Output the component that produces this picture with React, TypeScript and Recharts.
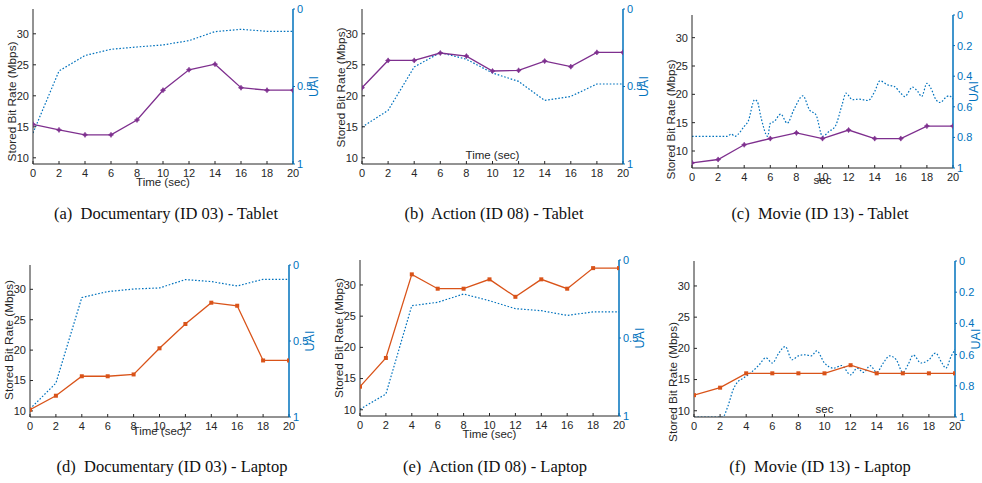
import { LineChart, Line, XAxis, YAxis, Label } from "recharts";

// x positions (sec)
const timeTicks = [0, 2, 4, 6, 8, 10, 12, 14, 16, 18, 20];
const steps = [0, 2, 4, 6, 8, 10, 12, 14, 16, 18, 20];

// (a) Documentary - Tablet
const docTabletRate = [15.4, 14.5, 13.7, 13.7, 16.1, 20.9, 24.2, 25.1, 21.3, 20.9, 20.9];
const docTabletUai = [0.8, 0.4, 0.3, 0.26, 0.245, 0.232, 0.204, 0.146, 0.131, 0.144, 0.144];

// (b) Action - Tablet
const actTabletRate = [21.3, 25.7, 25.7, 26.9, 26.4, 24.0, 24.1, 25.6, 24.7, 27.0, 27.0];
const actTabletUai = [0.762, 0.654, 0.374, 0.281, 0.324, 0.413, 0.467, 0.59, 0.564, 0.484, 0.484];

// (c) Movie - Tablet
const movTabletRate = [7.9, 8.5, 11.1, 12.2, 13.2, 12.2, 13.7, 12.2, 12.2, 14.4, 14.4];
const movTabletUaiT = [0, 2.7, 3.0, 3.3, 3.5, 4.0, 4.3, 4.8, 5.0, 5.3, 5.8, 6.0, 6.3, 6.8, 7.3, 7.8, 8.5, 9.0, 9.5, 10.0, 10.5, 11.0, 11.5, 11.8, 12.3, 12.8, 13.5, 14.0, 14.4, 15.0, 15.5, 16.0, 16.3, 16.9, 17.3, 17.6, 18.0, 18.3, 18.7, 19.0, 19.5, 19.7, 20];
const movTabletUai = [0.793, 0.793, 0.778, 0.793, 0.782, 0.728, 0.696, 0.554, 0.565, 0.674, 0.793, 0.707, 0.696, 0.648, 0.707, 0.62, 0.528, 0.62, 0.652, 0.793, 0.761, 0.724, 0.587, 0.511, 0.554, 0.55, 0.559, 0.5, 0.43, 0.457, 0.467, 0.511, 0.533, 0.472, 0.5, 0.533, 0.446, 0.478, 0.554, 0.572, 0.535, 0.528, 0.55];

// (d) Documentary - Laptop
const docLaptopRate = [10.2, 12.5, 15.7, 15.7, 16.0, 20.3, 24.3, 27.8, 27.3, 18.3, 18.3];
const docLaptopUai = [0.947, 0.777, 0.214, 0.175, 0.158, 0.151, 0.096, 0.109, 0.138, 0.094, 0.094];

// (e) Action - Laptop
const actLaptopRate = [13.7, 18.3, 31.7, 29.4, 29.4, 30.9, 28.1, 30.9, 29.4, 32.7, 32.7];
const actLaptopUai = [0.957, 0.859, 0.293, 0.271, 0.218, 0.261, 0.312, 0.325, 0.355, 0.333, 0.333];

// (f) Movie - Laptop
const movLaptopRate = [12.5, 13.7, 16.0, 16.0, 16.0, 16.0, 17.3, 16.0, 16.0, 16.0, 16.0];
const movLaptopUaiT = [0, 2.2, 2.6, 3.0, 3.3, 3.8, 4.3, 5.0, 5.5, 6.0, 6.5, 7.0, 7.5, 8.0, 8.5, 9.0, 9.4, 10.0, 10.7, 11.3, 12.0, 12.5, 13.0, 13.5, 14.0, 14.5, 15.0, 15.5, 16.0, 16.4, 16.8, 17.4, 18.0, 18.5, 19.0, 19.3, 19.7, 20];
const movLaptopUai = [1.0, 1.0, 0.93, 0.825, 0.78, 0.75, 0.72, 0.665, 0.62, 0.654, 0.59, 0.548, 0.633, 0.608, 0.601, 0.608, 0.576, 0.654, 0.687, 0.67, 0.73, 0.687, 0.714, 0.671, 0.714, 0.654, 0.608, 0.633, 0.714, 0.665, 0.603, 0.654, 0.633, 0.59, 0.654, 0.687, 0.612, 0.567];

const zip = (ts: number[], vs: number[]) => ts.map((t, i) => ({ t, v: vs[i] }));

const PURPLE = "#7E2F8E";
const ORANGE = "#D95319";
const BLUE = "#0072BD";
const AXIS = "#262626";
const SANS = "'Liberation Sans', Arial, sans-serif";

const uaiFmt = (v: number) => (v === 0 ? "0" : v === 1 ? "1" : String(v));

const StarDot = (p: any) => {
  const { cx, cy, stroke } = p;
  if (cx == null || cy == null) return <g key={p.index} />;
  const r = 2.6;
  return (
    <path
      key={p.index}
      d={`M${cx} ${cy - r}L${cx + 1} ${cy - 1}L${cx + r} ${cy}L${cx + 1} ${cy + 1}L${cx} ${cy + r}L${cx - 1} ${cy + 1}L${cx - r} ${cy}L${cx - 1} ${cy - 1}Z`}
      fill={stroke}
      stroke={stroke}
      strokeWidth={0.6}
    />
  );
};

const SquareDot = (p: any) => {
  const { cx, cy, stroke } = p;
  if (cx == null || cy == null) return <g key={p.index} />;
  return <rect key={p.index} x={cx - 2} y={cy - 2} width={4} height={4} fill={stroke} />;
};

type Panel = {
  rect: [number, number, number, number];
  rate: number[];
  uaiT: number[];
  uai: number[];
  color: string;
  star: boolean;
  rateDomain: [number, number];
  uaiTicks: number[];
  xLabel: string;
  xLabelDy: number;
  yLabelDy: number;
  smooth: boolean;
  caption: string;
  capCx: number;
  capCy: number;
};

const panels: Panel[] = [
  { rect: [33, 9, 293, 164], rate: docTabletRate, uaiT: steps, uai: docTabletUai, color: PURPLE, star: true, rateDomain: [9, 34], uaiTicks: [0, 0.5, 1], xLabel: "Time (sec)", xLabelDy: 19, yLabelDy: 15, smooth: false, caption: "(a)  Documentary (ID 03) - Tablet", capCx: 166, capCy: 214 },
  { rect: [362, 9, 623, 164], rate: actTabletRate, uaiT: steps, uai: actTabletUai, color: PURPLE, star: true, rateDomain: [9, 34], uaiTicks: [0, 0.5, 1], xLabel: "Time (sec)", xLabelDy: -8, yLabelDy: 1, smooth: false, caption: "(b)  Action (ID 08) - Tablet", capCx: 494, capCy: 214 },
  { rect: [692, 15, 953, 168], rate: movTabletRate, uaiT: movTabletUaiT, uai: movTabletUai, color: PURPLE, star: true, rateDomain: [7, 34], uaiTicks: [0, 0.2, 0.4, 0.6, 0.8, 1], xLabel: "sec", xLabelDy: 13, yLabelDy: 28, smooth: true, caption: "(c)  Movie (ID 13) - Tablet", capCx: 820, capCy: 214 },
  { rect: [30, 265, 289, 417], rate: docLaptopRate, uaiT: steps, uai: docLaptopUai, color: ORANGE, star: false, rateDomain: [9, 34], uaiTicks: [0, 0.5, 1], xLabel: "Time (sec)", xLabelDy: 15, yLabelDy: -1, smooth: false, caption: "(d)  Documentary (ID 03) - Laptop", capCx: 172, capCy: 467 },
  { rect: [360, 260, 619, 416], rate: actLaptopRate, uaiT: steps, uai: actLaptopUai, color: ORANGE, star: false, rateDomain: [9, 34], uaiTicks: [0, 0.5, 1], xLabel: "Time (sec)", xLabelDy: 19, yLabelDy: 0, smooth: false, caption: "(e)  Action (ID 08) - Laptop", capCx: 495, capCy: 467 },
  { rect: [694, 261, 955, 417], rate: movLaptopRate, uaiT: movLaptopUaiT, uai: movLaptopUai, color: ORANGE, star: false, rateDomain: [9, 34], uaiTicks: [0, 0.2, 0.4, 0.6, 0.8, 1], xLabel: "sec", xLabelDy: -7, yLabelDy: 43, smooth: true, caption: "(f)  Movie (ID 13) - Laptop", capCx: 820, capCy: 467 },
];

const LW = 45; // left axis width
const RW = 50; // right axis width
const TOP = 8;
const XH = 35;

function SubPlot({ p }: { p: Panel }) {
  const [x0, y0, x1, y1] = p.rect;
  const pw = x1 - x0;
  const ph = y1 - y0;
  const midY = TOP + ph / 2;
  return (
    <div style={{ position: "absolute", left: x0 - LW, top: y0 - TOP }}>
      <LineChart width={pw + LW + RW} height={ph + TOP + XH} margin={{ top: TOP, right: 0, bottom: 0, left: 0 }}>
        <XAxis
          dataKey="t"
          type="number"
          domain={[0, 20]}
          ticks={timeTicks}
          interval={0}
          allowDataOverflow
          height={XH}
          tickSize={-3}
          tickMargin={8}
          tick={{ fontSize: 11, fill: AXIS, fontFamily: SANS }}
          tickLine={{ stroke: AXIS }}
          axisLine={{ stroke: AXIS }}
        >
          <Label
            content={() => (
              <text x={LW + pw / 2} y={TOP + ph + p.xLabelDy} textAnchor="middle" dominantBaseline="middle" fontSize={11.5} fill={AXIS} fontFamily={SANS}>
                {p.xLabel}
              </text>
            )}
          />
        </XAxis>
        <XAxis xAxisId="top" orientation="top" type="number" domain={[0, 20]} height={0} tick={false} tickLine={false} axisLine={{ stroke: AXIS }} />
        <YAxis
          yAxisId="rate"
          type="number"
          domain={p.rateDomain}
          ticks={[10, 15, 20, 25, 30]}
          interval={0}
          allowDataOverflow
          width={LW}
          tickSize={-3}
          tickMargin={7}
          tick={{ fontSize: 11, fill: AXIS, fontFamily: SANS }}
          tickLine={{ stroke: AXIS }}
          axisLine={{ stroke: AXIS }}
        >
          <Label
            content={() => (
              <text
                x={LW - 20}
                y={midY + p.yLabelDy}
                transform={`rotate(-90 ${LW - 20} ${midY + p.yLabelDy})`}
                textAnchor="middle"
                dominantBaseline="middle"
                fontSize={11.8}
                fill={AXIS}
                fontFamily={SANS}
              >
                Stored Bit Rate (Mbps)
              </text>
            )}
          />
        </YAxis>
        <YAxis
          yAxisId="uai"
          orientation="right"
          type="number"
          domain={[0, 1]}
          reversed
          ticks={p.uaiTicks}
          interval={0}
          tickFormatter={uaiFmt}
          allowDataOverflow
          width={RW}
          tickSize={2}
          tickMargin={2}
          tick={{ fontSize: 11, fill: BLUE, fontFamily: SANS }}
          tickLine={{ stroke: BLUE }}
          axisLine={{ stroke: BLUE, strokeWidth: 1.5 }}
        >
          <Label
            content={() => (
              <text
                x={LW + pw + 22}
                y={midY}
                transform={`rotate(-90 ${LW + pw + 22} ${midY})`}
                textAnchor="middle"
                dominantBaseline="middle"
                fontSize={12.5}
                fill={BLUE}
                fontFamily={SANS}
              >
                UAI
              </text>
            )}
          />
        </YAxis>
        <Line
          yAxisId="uai"
          data={zip(p.uaiT, p.uai)}
          dataKey="v"
          type={p.smooth ? "monotone" : "linear"}
          stroke={BLUE}
          strokeWidth={1.2}
          strokeDasharray="1.6 1.8"
          dot={false}
          isAnimationActive={false}
        />
        <Line
          yAxisId="rate"
          data={zip(steps, p.rate)}
          dataKey="v"
          type="linear"
          stroke={p.color}
          strokeWidth={1.3}
          dot={p.star ? StarDot : SquareDot}
          isAnimationActive={false}
        />
      </LineChart>
    </div>
  );
}

export default function App() {
  return (
    <div style={{ position: "absolute", left: 0, top: 0, width: 982, height: 483, background: "#fff" }}>
      {panels.map((p, i) => (
        <SubPlot key={i} p={p} />
      ))}
      {panels.map((p, i) => (
        <div
          key={"c" + i}
          style={{
            position: "absolute",
            left: p.capCx - 160,
            top: p.capCy - 11,
            width: 320,
            height: 22,
            lineHeight: "22px",
            textAlign: "center",
            whiteSpace: "pre",
            fontFamily: "'Liberation Serif', 'Times New Roman', serif",
            fontSize: 16.5,
            color: "#111",
          }}
        >
          {p.caption}
        </div>
      ))}
    </div>
  );
}
